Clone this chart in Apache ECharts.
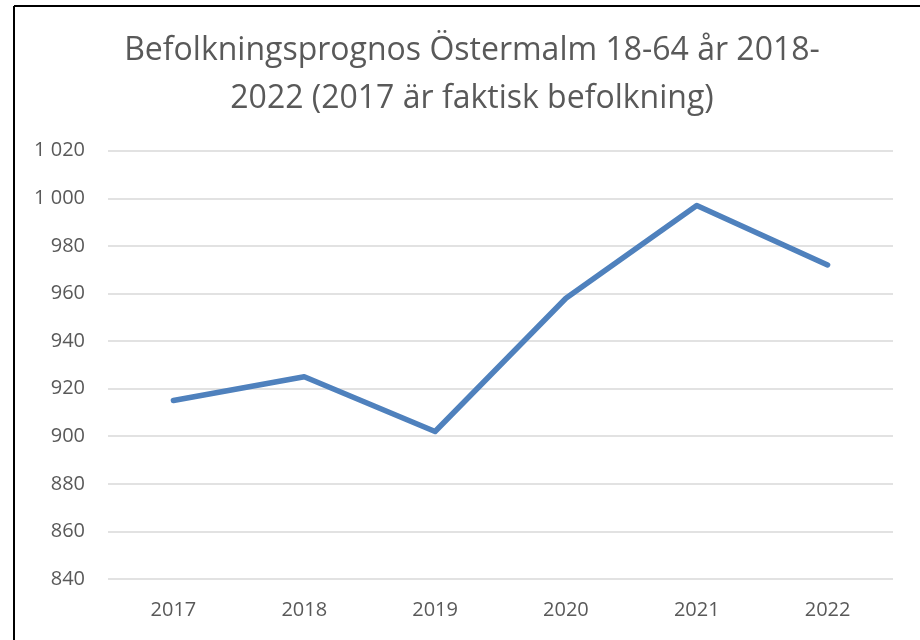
<!DOCTYPE html>
<html>
<head>
<meta charset="utf-8">
<script src="https://cdn.jsdelivr.net/npm/echarts@6/dist/echarts.min.js"></script>
<style>
  html, body { margin: 0; padding: 0; background: #fff; }
  #main { width: 920px; height: 640px; }
</style>
</head>
<body>
<div id="main"></div>
<script>
const years = ['2017', '2018', '2019', '2020', '2021', '2022'];
const population = [915, 925, 902, 958, 997, 972];
const yMin = 840;
const yMax = 1020;
const yStep = 20;

const chart = echarts.init(document.getElementById('main'), null, { renderer: 'canvas' });

// thousands separator with a space, like "1 020"
function fmt(v) {
  return String(v).replace(/\B(?=(\d{3})+(?!\d))/g, ' ');
}

const option = {
  backgroundColor: '#fff',
  title: {
    text: 'Befolkningsprognos Östermalm 18-64 år 2018-\n2022 (2017 är faktisk befolkning)',
    left: 467,
    top: 22,
    textAlign: 'center',
    textStyle: {
      fontFamily: 'Open Sans',
      fontWeight: 'normal',
      fontSize: 32,
      lineHeight: 48,
      color: '#595959'
    }
  },
  grid: {
    left: 108,
    right: 27,
    top: 150.7,
    bottom: 61
  },
  xAxis: {
    type: 'category',
    data: years,
    boundaryGap: true,
    axisLine: { show: false },
    axisTick: { show: false },
    axisLabel: {
      color: '#595959',
      fontFamily: 'Open Sans',
      fontSize: 20,
      margin: 21
    }
  },
  yAxis: {
    type: 'value',
    min: yMin,
    max: yMax,
    interval: yStep,
    axisLine: { show: false },
    axisTick: { show: false },
    axisLabel: {
      color: '#595959',
      fontFamily: 'Open Sans',
      fontSize: 20,
      margin: 23,
      formatter: fmt
    },
    splitLine: {
      lineStyle: { color: '#d9d9d9', width: 1.5 }
    }
  },
  series: [{
    name: 'Befolkning',
    type: 'line',
    data: population,
    symbol: 'none',
    lineStyle: { color: '#4f81bd', width: 5.5, cap: 'round', join: 'round' }
  }],
  graphic: [
    { type: 'line', shape: { x1: 14, y1: 6, x2: 920, y2: 6 }, style: { stroke: '#000', lineWidth: 2 } },
    { type: 'line', shape: { x1: 14, y1: 6, x2: 14, y2: 640 }, style: { stroke: '#000', lineWidth: 2 } }
  ]
};

chart.setOption(option);
</script>
</body>
</html>
